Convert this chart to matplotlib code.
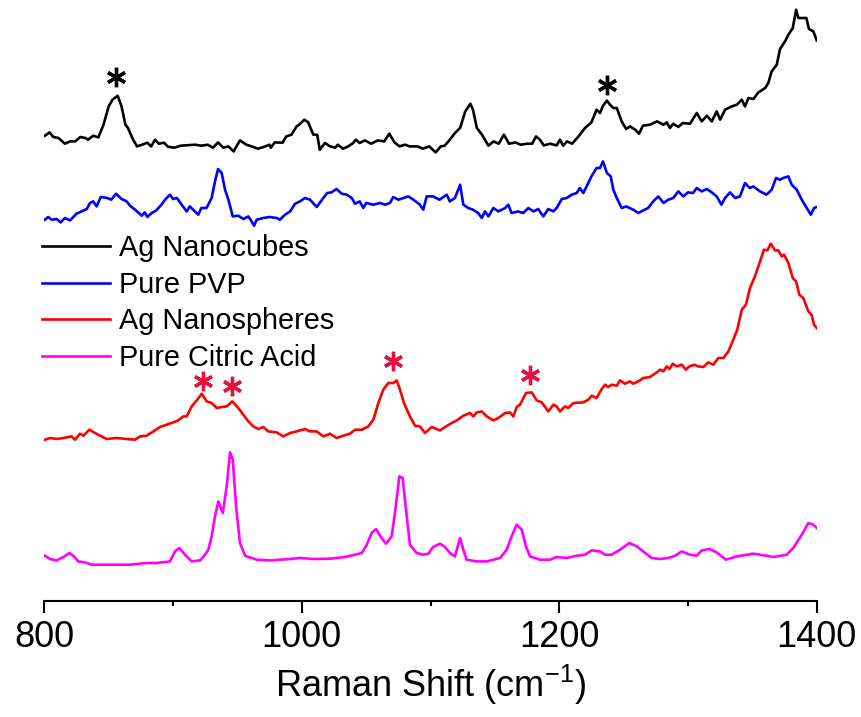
import matplotlib
matplotlib.use("Agg")
import matplotlib.pyplot as plt
from matplotlib.ticker import MultipleLocator

plt.rcParams['font.family'] = ['Liberation Sans', 'DejaVu Sans']
plt.rcParams['mathtext.fontset'] = 'custom'
plt.rcParams['mathtext.rm'] = 'Liberation Sans'
plt.rcParams['mathtext.it'] = 'Liberation Sans:italic'

# ---------------- data (offset spectra, arbitrary units) ----------------
cubes_x = [800.5, 804, 807, 811, 816, 820, 824, 828, 832, 834, 838, 842, 846, 850, 853, 857, 860, 863, 865, 869,
           872, 876, 880, 883, 886, 889, 893, 896, 901, 906, 917, 922, 927, 931, 935, 939, 943, 947, 952, 957,
           961, 966, 971, 975, 976, 979, 985, 988, 992, 996, 998, 1002, 1005, 1009, 1012, 1014, 1018, 1022, 1026, 1028,
           1032, 1036, 1040, 1042, 1045, 1049, 1054, 1059, 1064, 1068, 1072, 1076, 1080, 1084, 1090, 1094, 1099, 1104, 1108, 1111,
           1115, 1119, 1123, 1127, 1131, 1133, 1136, 1140, 1145, 1149, 1153, 1157, 1161, 1166, 1170, 1175, 1179, 1182, 1185, 1188,
           1193, 1198, 1200.6, 1203, 1206, 1210, 1215, 1220, 1225, 1229, 1231.7, 1234, 1237, 1239.5, 1242, 1244.7, 1248.5, 1252, 1255, 1259,
           1262, 1265, 1270.5, 1276, 1281, 1283.5, 1286, 1288.6, 1292.5, 1296, 1301.6, 1306.8, 1310.7, 1314.6, 1318.5, 1322.3, 1325, 1328.8, 1334, 1338,
           1341.8, 1344.3, 1347, 1350.8, 1354.7, 1360, 1362.4, 1365, 1369, 1371.5, 1375.4, 1378, 1381.4, 1384, 1385.7, 1389, 1392, 1394, 1397.4, 1400]
cubes_y = [465, 468.3, 463.7, 462.7, 457, 459.3, 459.3, 463.7, 462.7, 461, 465, 463.3, 476, 494.3, 501, 505, 494.3, 476, 472.7, 461,
           454.3, 456, 458, 454.3, 461, 457, 458, 454, 453, 455, 456, 455, 456, 453, 458.3, 453, 454.3, 449.3, 460.3, 456,
           454.3, 452, 454, 456, 453, 458.3, 458, 464.3, 466, 474.3, 476, 481, 478.3, 466, 466, 451, 457.7, 454.3, 453, 456,
           452, 454.3, 457.7, 461, 457.7, 460.3, 457, 460.3, 459.3, 467, 458.3, 454.3, 456, 454.3, 454.3, 452, 454.3, 448.3, 454.3, 455,
           461, 467.7, 472.7, 489.3, 497, 491, 472.7, 466, 455, 459.3, 457, 466, 457, 458.3, 456, 457, 457, 464.3, 461, 455.3,
           457, 455.3, 461, 455, 459.3, 457, 464.3, 472.7, 478.3, 491, 487.7, 495, 500, 496, 492.7, 492.7, 479.3, 471.7, 474.3, 471,
           467, 475, 476, 479.3, 476, 478.3, 472.7, 477, 473.7, 477.7, 477, 487.7, 479.3, 485, 479.3, 489.3, 481, 491, 494.3, 496,
           501, 494.3, 502.7, 501.7, 508.3, 512.7, 517.7, 529.3, 536, 551.7, 559.3, 566, 572.7, 591, 582.7, 582.7, 582.7, 571.7, 569.3, 560.3]

pvp_x = [800.5, 803, 805.7, 809.6, 812.7, 816, 820, 825, 829, 833, 835.5, 838, 840.7, 843.8, 849, 852, 855.7, 860, 864, 866.6,
         870.5, 875.7, 878, 880, 883.4, 887, 891, 893.8, 897.6, 900, 903, 906.7, 910.6, 913, 917, 919.6, 922, 926, 930, 932.6,
         935, 937.8, 940.4, 943, 946.4, 950.7, 954.6, 958.5, 961, 963, 965, 970, 975, 980.5, 983, 987, 991, 994.8, 998.6, 1002.5,
         1006.4, 1011.6, 1016.7, 1019.8, 1023, 1027, 1031, 1035, 1038.8, 1041.4, 1045, 1047.8, 1050, 1055.6, 1060.8, 1064.7, 1068.5, 1071, 1075, 1079,
         1082.8, 1086.7, 1091.8, 1094.4, 1097, 1102, 1107, 1112.6, 1115, 1119, 1123, 1125.5, 1129.4, 1133, 1137, 1139.8, 1142.3, 1145, 1148.8, 1152.7,
         1158, 1160.4, 1163, 1168, 1172, 1176, 1180, 1183.7, 1187.6, 1191.5, 1195.4, 1198, 1202, 1205.8, 1209.7, 1213.6, 1216, 1218.7, 1221.3, 1225,
         1229, 1231.7, 1234, 1237, 1240, 1242, 1244.7, 1248.5, 1252, 1257.5, 1261.4, 1265.3, 1269, 1273, 1277, 1281, 1284.7, 1288.6, 1292.5, 1296.4,
         1300, 1304, 1306.8, 1310.7, 1314.6, 1318.5, 1322.3, 1326, 1328.8, 1332.7, 1336.6, 1340.4, 1344.3, 1348, 1350.8, 1356, 1361, 1365, 1368.4, 1371.5,
         1374, 1378, 1380.6, 1384.5, 1388.4, 1392.3, 1395.4, 1398, 1400]
pvp_y = [381, 383.7, 381, 381.7, 378.3, 382.7, 380.3, 387, 389.3, 391.7, 397.7, 399.3, 394.3, 403.7, 402.7, 401, 407, 401.7, 399.3, 395,
         391, 385, 388.3, 383.7, 387.7, 390.3, 396, 401, 406, 401.7, 402.7, 396, 389.3, 394.3, 389.3, 386, 392.7, 392.7, 402.7, 419.3,
         431.7, 427.7, 411, 401, 384.3, 385, 381.7, 384.3, 379.3, 375, 381, 382.7, 383.7, 382.7, 381, 386, 389.3, 397, 399.3, 402.7,
         401, 393.7, 402.7, 407.7, 408.3, 411.7, 407, 406, 402.7, 397, 399.3, 392.7, 397.7, 396, 397.7, 396, 397.7, 403.7, 401, 402.7,
         404.3, 401, 396, 391, 404.3, 404.3, 401, 406, 399.3, 402.7, 416, 396, 392.7, 391, 387.7, 382.7, 389.3, 384.3, 392.7, 389.3,
         392.7, 396, 387.7, 389.3, 387.7, 392.7, 389.3, 391.7, 384.3, 391.7, 389.3, 392.7, 401.7, 402.7, 406, 407.7, 412.7, 407.7, 414.3, 424.3,
         432.7, 432.7, 439.3, 427.7, 424.3, 411, 402.7, 392.7, 394.3, 391, 387.7, 390.3, 392.7, 399.3, 404.3, 397.7, 401, 402.7, 409.3, 404.3,
         408.3, 407.7, 412.7, 409.3, 411.7, 408.3, 404.3, 396, 402.7, 408.3, 402.7, 404.3, 417.7, 412.7, 414.3, 409.3, 406, 411, 422.7, 421,
         422.7, 424.3, 416, 411, 401, 392.7, 386, 392.7, 393.7]

spheres_x = [800.5, 804.4, 809.6, 814.8, 821.3, 823.8, 827.7, 830.3, 835, 839.4, 843.3, 848.5, 856.2, 864, 870.5, 874.3, 879.5, 884.7, 889.9, 895,
             900.2, 904, 908, 910.6, 914.5, 918.4, 922.3, 926.2, 930, 934, 937.8, 941.7, 946, 950.7, 954.6, 958.5, 962.4, 966.2, 970, 974,
             980.5, 985.6, 990.9, 996, 1002.5, 1006.4, 1011.6, 1016.7, 1022, 1027, 1032.3, 1037.5, 1041.4, 1046.6, 1051.7, 1055.6, 1059.5, 1063.3, 1067.2, 1071.1,
             1073.7, 1076.3, 1079.4, 1084, 1088, 1091.8, 1095.7, 1101, 1107.4, 1111.3, 1116.5, 1120.4, 1125.5, 1130.7, 1133.3, 1136, 1139.8, 1143.7, 1148.8, 1152.7,
             1158, 1161.8, 1164.3, 1167, 1169.5, 1174.2, 1178.6, 1182.5, 1186.4, 1191.5, 1195.4, 1198, 1200.6, 1204.5, 1207, 1211, 1218.7, 1222.6, 1225.2, 1229,
             1233, 1235.6, 1238, 1240.8, 1244.7, 1247.2, 1251, 1255, 1257.5, 1262.7, 1265.3, 1270.5, 1275.7, 1278.3, 1281, 1283.5, 1285.6, 1288.2, 1291.3, 1295.2,
             1298.3, 1301, 1305, 1308, 1312, 1315.8, 1319.7, 1323.6, 1327.5, 1331.4, 1335.2, 1338.3, 1341.8, 1345, 1348.2, 1352, 1356, 1359, 1361.6, 1364.3,
             1367.6, 1370.2, 1372.8, 1374.6, 1378, 1381.4, 1384, 1386.5, 1389.6, 1393.5, 1396, 1397.9, 1400]
spheres_y = [161, 162.7, 161.7, 162.7, 164.3, 161, 167, 165, 171, 167.7, 165, 161.7, 162.7, 161.7, 161, 164.3, 165, 169.3, 173.7, 176,
             178.3, 180.3, 184.3, 184.3, 194.3, 200.3, 207, 199.3, 197.7, 192.7, 193.7, 194.3, 199.3, 192.7, 186, 179.3, 174.3, 171.7, 173.7, 169.3,
             168.3, 164.3, 167.7, 169.3, 171.7, 169.3, 169.3, 164.3, 167, 162.7, 165, 167, 171, 171, 174.3, 181, 197.7, 211, 217.7, 217.7,
             220.3, 211, 197.7, 184.3, 175, 174.3, 167.7, 173.7, 170.3, 173.7, 177.7, 180.3, 185, 187.7, 184.3, 188.3, 189.3, 184.3, 180.3, 182.7,
             187.7, 188.3, 184.3, 193.7, 196, 207.7, 208.3, 200.3, 198.3, 189.3, 196, 194.3, 189.3, 194.3, 192.7, 197.7, 198.3, 201, 205, 202.7,
             211.7, 216, 213.7, 216, 215, 220.3, 217, 219.3, 217, 220.3, 222.7, 223.7, 228.3, 231, 229.3, 234.3, 231.7, 237, 234.3, 236,
             231, 234.3, 236, 234.3, 233.7, 238.3, 236, 242.7, 242.7, 249.3, 261, 271, 291, 296, 312.7, 324.3, 339.3, 351, 350.3, 357,
             350.3, 350.3, 344.3, 346, 337.7, 322.7, 319.3, 306, 302.7, 289.3, 286, 276, 272.7]

citric_x = [800.5, 804.4, 809.6, 814.8, 819.5, 822.5, 826.4, 831.6, 836.8, 848.5, 866.6, 879.5, 887.3, 897.6, 901.5, 904.9, 909.3, 914.5, 921, 924.8,
            927.4, 930, 932.6, 935.2, 938.6, 941.7, 944.3, 946.4, 949, 952, 956, 965, 975.3, 990.9, 998.6, 1009, 1022, 1033.6, 1041.4, 1046.6,
            1050.5, 1054.3, 1057.7, 1060.8, 1065.4, 1069.8, 1072.4, 1075.8, 1078.4, 1081, 1084, 1089.3, 1094.4, 1098.3, 1102, 1107.4, 1111.3, 1115.2, 1119, 1123,
            1125.5, 1128, 1136, 1143.7, 1154, 1159.2, 1163, 1167, 1170.9, 1174.2, 1177.3, 1185, 1192.8, 1198, 1205.8, 1213.6, 1220, 1225.2, 1231.6, 1235.6,
            1240.8, 1247.2, 1254.5, 1260.3, 1265.3, 1271.8, 1278.3, 1284.7, 1290, 1295.2, 1301.6, 1306.8, 1310.7, 1317, 1322.3, 1329.5, 1337.9, 1350.8, 1361.2, 1366.3,
            1376.7, 1381.8, 1388.4, 1393.5, 1397, 1400]
citric_y = [45, 41.7, 40.3, 43.7, 47.7, 45, 39.3, 38.3, 36, 36, 36, 37.7, 37.7, 39.3, 49.3, 52.7, 46, 39.3, 40.3, 46,
            51, 64.3, 84.3, 99.3, 87.7, 114.3, 148.3, 141, 94.3, 57.7, 45, 41, 40.3, 41.7, 42.7, 41.7, 42, 43.7, 46, 47.7,
            56, 67.7, 71.7, 65, 57, 64.3, 87.7, 124.3, 122.7, 91, 56, 47.7, 46, 47, 53.7, 57, 53.7, 47.7, 44.3, 62.7,
            51, 41, 39.3, 39.3, 42.7, 51, 64.3, 76, 71, 54.3, 44.3, 41, 41, 43.7, 42.7, 45, 46, 50.3, 49.3, 46,
            46, 51, 57.7, 54.3, 49.3, 42.7, 41.7, 42.7, 45, 49.3, 46, 45, 50.3, 51.7, 48.3, 41, 44.3, 47, 45, 43.7,
            46, 52.7, 66, 77.7, 76.3, 72.7]

labels = ['Ag Nanocubes', 'Pure PVP', 'Ag Nanospheres', 'Pure Citric Acid']
colors = ['black', '#0000FF', '#FF0000', '#FF00FF']

# peak markers
star_black_x = [855.7, 1237.3]
star_black_y = [524, 516]
star_red_x = [923, 946, 1071.1, 1177.3]
star_red_y = [219.3, 214.3, 239.3, 226]

xticks = [800, 1000, 1200, 1400]

# ---------------- figure ----------------
fig = plt.figure(figsize=(8.62, 7.17), dpi=100)
ax = fig.add_axes([44.3 / 862, 116.3 / 717, 772.4 / 862, 600.7 / 717])

series = [(cubes_x, cubes_y), (pvp_x, pvp_y), (spheres_x, spheres_y), (citric_x, citric_y)]
for (xs, ys), lab, c in zip(series, labels, colors):
    ax.plot(xs, ys, color=c, lw=1.9, label=lab, solid_joinstyle='round')

ax.plot(star_black_x, star_black_y, ls='none', marker=(6, 2, 0), ms=14, mew=2.4, color='black')
ax.plot(star_red_x, star_red_y, ls='none', marker=(6, 2, 0), ms=14, mew=2.4, color='#E8103C')

ax.set_xlim(800, 1400)
ax.set_ylim(0, 600.7)
ax.set_xticks(xticks)
ax.xaxis.set_minor_locator(MultipleLocator(100))
ax.set_yticks([])
for s in ['left', 'top', 'right']:
    ax.spines[s].set_visible(False)
ax.spines['bottom'].set_linewidth(1.5)
ax.tick_params(axis='x', which='major', length=8.6, width=1.5, labelsize=26, pad=5, direction='out')
ax.tick_params(axis='x', which='minor', length=3.8, width=1.5, direction='out')
ax.set_xlabel('Raman Shift (cm$^{-1}$)', fontsize=26, labelpad=6)

leg = ax.legend(loc='upper left', bbox_to_anchor=(42 / 862, 1 - 234 / 717), bbox_transform=fig.transFigure,
                frameon=False, fontsize=20.8, handlelength=2.35, handletextpad=0.32, labelspacing=0.3,
                borderpad=0, borderaxespad=0)

fig.savefig('out.png', dpi=100)
